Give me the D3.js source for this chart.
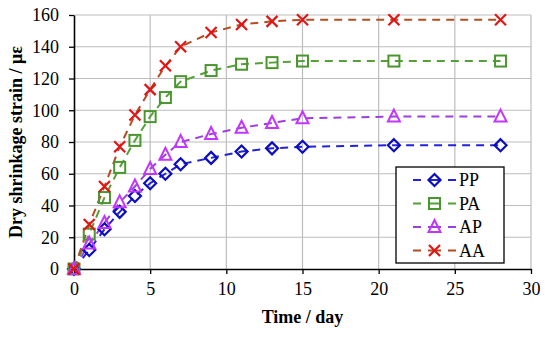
<!DOCTYPE html>
<html><head><meta charset="utf-8">
<script src="https://cdn.jsdelivr.net/npm/d3@7"></script>
<style>body{margin:0;background:#fff}svg{display:block}text{font-family:'Liberation Serif','Times New Roman',serif}</style>
</head><body>
<svg id="c" width="550" height="338"></svg>
<script>
const days = [0,1,2,3,4,5,6,7,9,11,13,15,21,28];
const PP = [0,12,25,36,46,54,60,66,70,74,76,77,78,78];
const PA = [0,22,45,64,81,96,108,118,125,129,130,131,131,131];
const AP = [0,16,29,42,52,63,72,80,85,89,92,95,96,96];
const AA = [0,28,52,77,97,113,128,140,149,154,156,157,157,157];
const seriesNames = ["PP","PA","AP","AA"];
const xTicks = [0,5,10,15,20,25,30];
const yTicks = [0,20,40,60,80,100,120,140,160];

const series = [
  {name:"PP", vals:PP, line:"#2222d8", mark:"#0c0cc0", shape:"diamond"},
  {name:"PA", vals:PA, line:"#55a038", mark:"#4a962e", shape:"square"},
  {name:"AP", vals:AP, line:"#9c40dc", mark:"#c236ff", shape:"triangle"},
  {name:"AA", vals:AA, line:"#b44c22", mark:"#e41414", shape:"cross"}
];

const svg = d3.select("#c");
const L=74, R=531, T=15, B=269;
const x = d3.scaleLinear().domain([0,30]).range([L,R]);
const y = d3.scaleLinear().domain([0,160]).range([B,T]);
const font = "'Liberation Serif','Times New Roman',serif";

// grid
svg.append("g").selectAll("line").data(xTicks.slice(1)).join("line")
  .attr("x1",d=>x(d)).attr("x2",d=>x(d)).attr("y1",T).attr("y2",B)
  .attr("stroke","#bdbdbd").attr("stroke-width",1.2);
svg.append("g").selectAll("line").data(yTicks.slice(1)).join("line")
  .attr("x1",L).attr("x2",R).attr("y1",d=>y(d)).attr("y2",d=>y(d))
  .attr("stroke","#bdbdbd").attr("stroke-width",1.2);

// axes
const xAxis = svg.append("g").attr("transform",`translate(0,${B})`)
  .call(d3.axisBottom(x).tickValues(xTicks).tickSize(5).tickPadding(8).tickSizeOuter(0));
const yAxis = svg.append("g").attr("transform",`translate(${L},0)`)
  .call(d3.axisLeft(y).tickValues(yTicks).tickSize(5).tickPadding(10).tickSizeOuter(0));
[xAxis,yAxis].forEach(a=>{
  a.attr("font-family",font).attr("font-size",18);
  a.select(".domain").attr("stroke","#000").attr("stroke-width",1.6);
  a.selectAll(".tick line").attr("stroke","#000").attr("stroke-width",1.3);
  a.selectAll("text").style("font-family",font).style("font-size","18px").attr("fill","#000");
});

// marker drawer
function drawMarker(g, shape, color, cx, cy){
  const s=6;
  if(shape==="diamond"){
    g.append("path").attr("d",`M${cx},${cy-s}L${cx+s},${cy}L${cx},${cy+s}L${cx-s},${cy}Z`)
      .attr("fill","none").attr("stroke",color).attr("stroke-width",2.2);
  } else if(shape==="square"){
    const q=5.5;
    g.append("rect").attr("x",cx-q).attr("y",cy-q).attr("width",2*q).attr("height",2*q)
      .attr("fill","none").attr("stroke",color).attr("stroke-width",2);
  } else if(shape==="triangle"){
    g.append("path").attr("d",`M${cx},${cy-s-1}L${cx+s},${cy+s-1}L${cx-s},${cy+s-1}Z`)
      .attr("fill","none").attr("stroke",color).attr("stroke-width",2);
  } else {
    const c=5.5;
    g.append("path").attr("d",`M${cx-c},${cy-c}L${cx+c},${cy+c}M${cx+c},${cy-c}L${cx-c},${cy+c}`)
      .attr("fill","none").attr("stroke",color).attr("stroke-width",2.2);
  }
}

const line = d3.line().x((d,i)=>x(days[i])).y(d=>y(d));
series.forEach(s=>{
  svg.append("path").datum(s.vals).attr("d",line)
    .attr("fill","none").attr("stroke",s.line).attr("stroke-width",2)
    .attr("stroke-dasharray","8,6");
});
series.forEach(s=>{
  const g=svg.append("g");
  s.vals.forEach((v,i)=>drawMarker(g,s.shape,s.mark,x(days[i]),y(v)));
});

// legend
const lg = svg.append("g");
lg.append("rect").attr("x",396).attr("y",167).attr("width",108).attr("height",96)
  .attr("fill","#fff").attr("stroke","#000").attr("stroke-width",1.3);
series.forEach((s,i)=>{
  const cy = 180 + i*23.5;
  lg.append("line").attr("x1",413).attr("x2",456).attr("y1",cy).attr("y2",cy)
    .attr("stroke",s.line).attr("stroke-width",2).attr("stroke-dasharray","8,7,13,7,8");
  drawMarker(lg,s.shape,s.mark,434.5,cy);
  lg.append("text").attr("x",459).attr("y",cy+6).text(seriesNames[i])
    .style("font-family",font).style("font-size","18px").attr("fill","#000");
});

// titles
svg.append("text").attr("x",(L+R)/2).attr("y",323).attr("text-anchor","middle")
  .style("font-family",font).style("font-size","18px").attr("font-weight","bold").text("Time / day");
svg.append("text").attr("transform",`translate(22,${(T+B)/2}) rotate(-90)`)
  .attr("text-anchor","middle")
  .style("font-family",font).style("font-size","18px").attr("font-weight","bold").text("Dry shrinkage strain / με");
</script>
</body></html>
